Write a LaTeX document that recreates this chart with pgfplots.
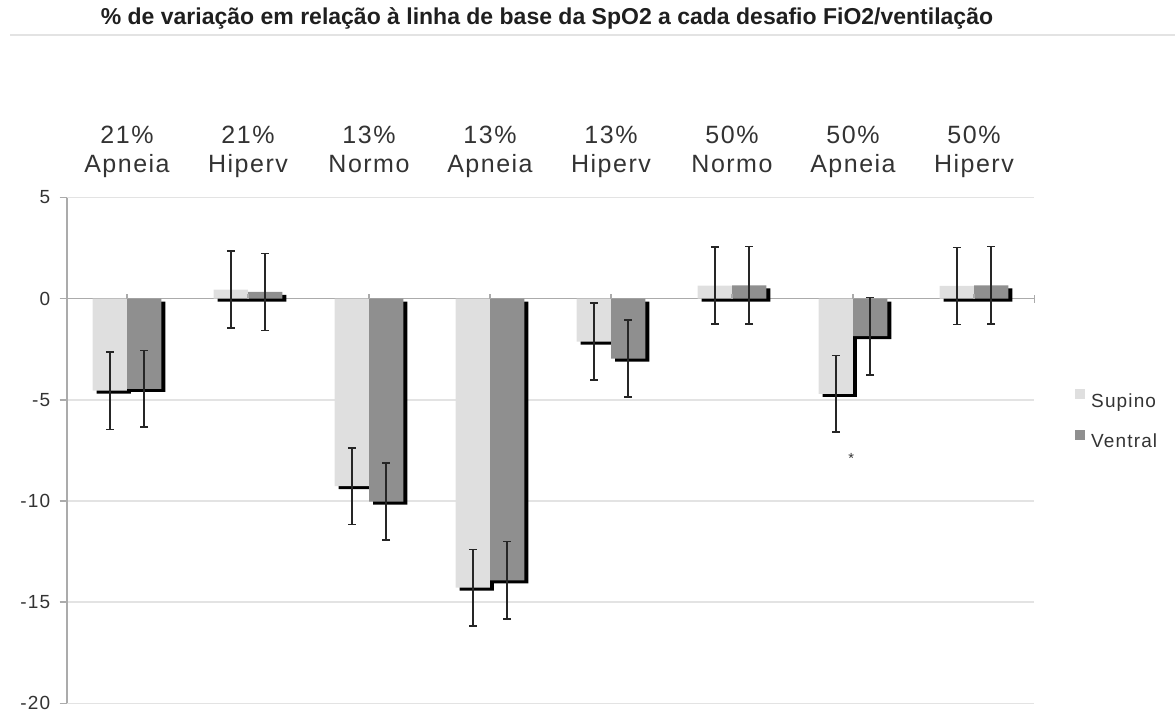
\documentclass[border=0pt]{standalone}
\usepackage{pgfplots}
\pgfplotsset{compat=1.18}
\usepackage{pgfplotstable}
\usepackage{fontspec}
\setmainfont{Liberation Sans}
\newfontfamily\lblfont[LetterSpace=6]{Liberation Sans}
\definecolor{supc}{HTML}{DFDFDF}
\definecolor{ventc}{HTML}{8F8F8F}
\definecolor{gridc}{HTML}{E3E3E3}
\definecolor{axc}{HTML}{ABABAB}
\definecolor{txtc}{HTML}{333333}

\pgfplotstableread{
x y e
1 -4.55 1.91
2 0.45 1.90
3 -9.26 1.89
4 -14.28 1.89
5 -2.12 1.90
6 0.65 1.90
7 -4.70 1.88
8 0.63 1.90
}\supino
\pgfplotstableread{
x y e
1 -4.46 1.89
2 0.33 1.91
3 -10.03 1.90
4 -13.92 1.91
5 -2.96 1.91
6 0.66 1.91
7 -1.85 1.92
8 0.66 1.91
}\ventral

\begin{document}
\begin{tikzpicture}[x=1pt,y=1pt]
\useasboundingbox (0,0) rectangle (881.25,539.25);
\node[font=\bfseries\fontsize{17.25}{20}\selectfont, text=black!88, anchor=center] at (410.25,525.75)
  {\% de variação em relação à linha de base da SpO2 a cada desafio FiO2/ventilação};
\draw[line width=1.5pt, gridc] (7.5,513) -- (881.25,513);
\begin{axis}[
  at={(49.875pt,11.775pt)}, anchor=south west,
  scale only axis, width=726pt, height=379.35pt,
  xmin=0.5, xmax=8.5, ymin=-20, ymax=5,
  axis y line*=left, axis x line*=top,
  x axis line style={draw=none},
  y axis line style={draw=axc, line width=1.5pt},
  xtick={1,...,8},
  xticklabels={{21\%\\Apneia\strut},{21\%\\Hiperv\strut},{13\%\\Normo\strut},{13\%\\Apneia\strut},{13\%\\Hiperv\strut},{50\%\\Normo\strut},{50\%\\Apneia\strut},{50\%\\Hiperv\strut}},
  xticklabel pos=upper,
  xticklabel style={align=center, anchor=south, text=txtc, font=\lblfont\fontsize{18.75}{21.5}\selectfont, yshift=3.5pt},
  x tick style={draw=none},
  ytick={-20,-15,-10,-5,0,5},
  yticklabels={-20,-15,-10,-5,0,5},
  yticklabel style={text=txtc, font=\lblfont\fontsize{14.25}{16}\selectfont, xshift=-3.5pt},
  y tick style={draw=axc, line width=1.2pt},
  tick align=outside, major tick length=5.25pt,
  ymajorgrids, grid style={gridc, line width=1.2pt},
  extra y ticks={0}, extra y tick labels={},
  extra y tick style={grid style={axc, line width=1.2pt}, major tick length=0pt},
  legend style={at={(1.0418,0.563)}, anchor=west, draw=none, fill=none, inner sep=0pt,
    font=\lblfont\fontsize{14.25}{17}\selectfont, text=txtc,
    nodes={inner sep=0pt, text height=10.5pt, text depth=0pt},
    row sep=16.5pt, column sep=5pt},
  legend cell align=left,
  legend image code/.code={\fill[#1, draw=none] (0pt,1pt) rectangle (7pt,8.5pt);},
  clip=false,
]
\addplot[ybar, bar width=0.2835, bar shift=-0.1418, fill=black, draw=none, xshift=3pt, yshift=-2.25pt, forget plot] table[x=x,y=y]{\supino};
\addplot[ybar, bar width=0.2835, bar shift=-0.1418, fill=supc, draw=none] table[x=x,y=y]{\supino};
\addlegendentry{Supino}
\addplot[ybar, bar width=0.2835, bar shift=0.1418, fill=black, draw=none, xshift=3pt, yshift=-2.25pt, forget plot] table[x=x,y=y]{\ventral};
\addplot[ybar, bar width=0.2835, bar shift=0.1418, fill=ventc, draw=none] table[x=x,y=y]{\ventral};
\addlegendentry{Ventral}
\addplot[draw=none, mark=none, forget plot,
  error bars/.cd, y dir=both, y explicit,
  error bar style={draw=black!85, line width=1.1pt},
  error mark options={rotate=90, draw=black!85, line width=1.1pt, mark size=3pt}]
  table[x expr=\thisrow{x}-0.1418, y=y, y error=e]{\supino};
\addplot[draw=none, mark=none, forget plot,
  error bars/.cd, y dir=both, y explicit,
  error bar style={draw=black!85, line width=1.1pt},
  error mark options={rotate=90, draw=black!85, line width=1.1pt, mark size=3pt}]
  table[x expr=\thisrow{x}+0.1418, y=y, y error=e]{\ventral};
\pgfplotsinvokeforeach{1,...,8}{\draw[axc, line width=1pt] (axis cs:#1,0) -- ++(0pt,3.5pt);}
\draw[axc, line width=1pt] (axis cs:8.5,0) ++(0pt,-3pt) -- ++(0pt,6pt);
\node[font=\fontsize{11}{12}\selectfont, text=txtc] at (axis cs:6.985,-7.9) {*};
\end{axis}
\end{tikzpicture}
\end{document}
